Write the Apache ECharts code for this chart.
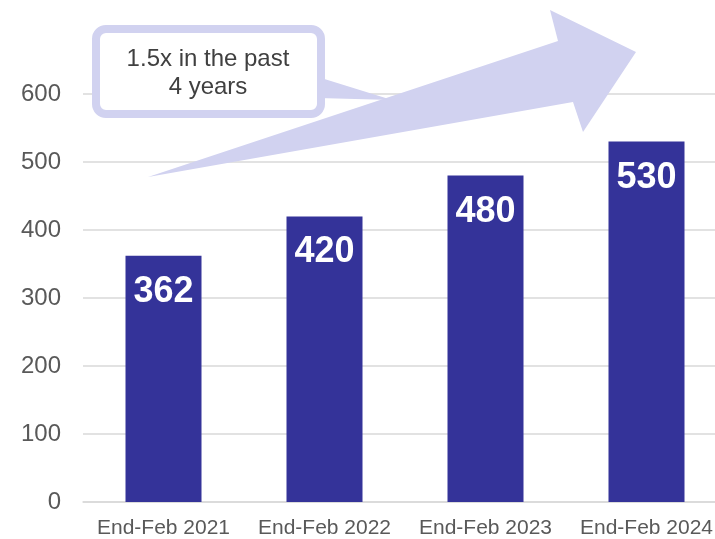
<!DOCTYPE html>
<html>
<head>
<meta charset="utf-8">
<script src="https://cdn.jsdelivr.net/npm/echarts@6/dist/echarts.min.js"></script>
<style>
  html, body { margin: 0; padding: 0; background: #fff; }
  #chart { width: 715px; height: 539px; }
</style>
</head>
<body>
<div id="chart"></div>
<script>
var categories = ['End-Feb 2021', 'End-Feb 2022', 'End-Feb 2023', 'End-Feb 2024']
var values = [362, 420, 480, 530]
var yMin = 0, yMax = 600, yStep = 100
var calloutText = '1.5x in the past\n4 years'

var chart = echarts.init(document.getElementById('chart'), null, { renderer: 'canvas' })

var lilac = '#d1d2f0'

var option = {
  backgroundColor: '#ffffff',
  animation: false,
  textStyle: { fontFamily: 'Liberation Sans, Arial, sans-serif' },
  // plot runs past the right edge of the picture, as in the source slide
  grid: { left: 83, width: 644, top: 94, bottom: 37, outerBoundsMode: 'none', containLabel: false },
  xAxis: {
    type: 'category',
    data: categories,
    axisTick: { show: false },
    axisLine: { lineStyle: { color: '#d9d9d9', width: 1.5 } },
    axisLabel: { color: '#595959', fontSize: 21, margin: 16, interval: 0, hideOverlap: false }
  },
  yAxis: {
    type: 'value',
    min: yMin,
    max: yMax,
    interval: yStep,
    axisLine: { show: false },
    axisTick: { show: false },
    axisLabel: { color: '#595959', fontSize: 24, margin: 22 },
    splitLine: { lineStyle: { color: '#d9d9d9', width: 1.5 } }
  },
  series: [{
    type: 'bar',
    data: values,
    barWidth: 76,
    itemStyle: { color: '#343399' },
    label: {
      show: true,
      position: 'insideTop',
      distance: 18,
      color: '#ffffff',
      fontSize: 36,
      fontWeight: 'bold'
    }
  }],
  graphic: [
    {
      // big growth arrow
      type: 'polygon',
      z: 10,
      shape: { points: [[148, 177], [558, 41], [550, 10], [636, 52], [583, 132], [573, 102]] },
      style: { fill: lilac }
    },
    {
      // callout pointer
      type: 'polygon',
      z: 11,
      shape: { points: [[318, 77], [392, 100], [318, 98]] },
      style: { fill: lilac }
    },
    {
      type: 'rect',
      z: 12,
      shape: { x: 96, y: 29, width: 225, height: 85, r: 10 },
      style: { fill: '#ffffff', stroke: lilac, lineWidth: 8 }
    },
    {
      type: 'text',
      z: 13,
      x: 208,
      y: 73,
      style: {
        text: calloutText,
        fill: '#404040',
        fontSize: 24,
        lineHeight: 28,
        fontFamily: 'Liberation Sans, Arial, sans-serif',
        align: 'center',
        verticalAlign: 'middle'
      }
    }
  ]
}

chart.setOption(option)
</script>
</body>
</html>
